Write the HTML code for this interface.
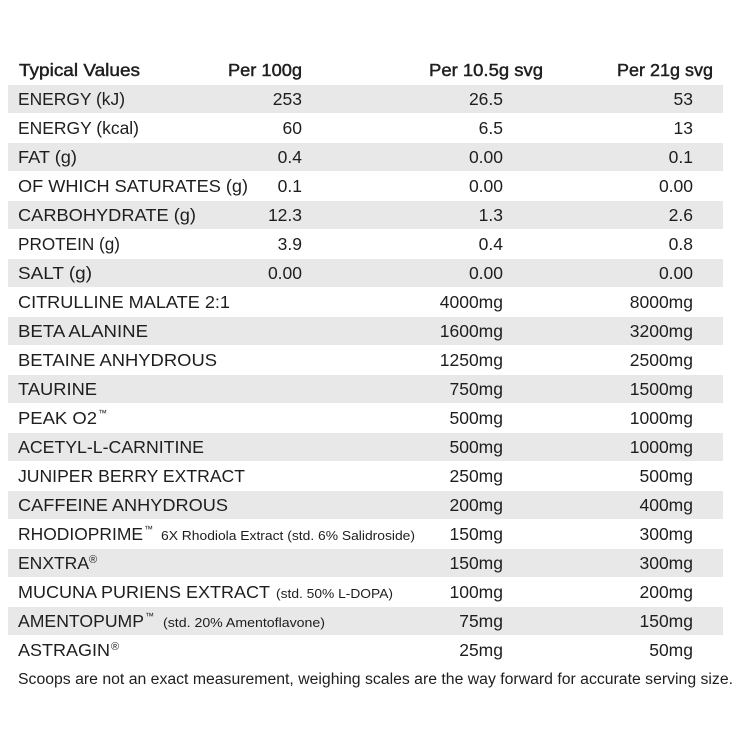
<!DOCTYPE html>
<html><head><meta charset="utf-8"><style>
html,body{margin:0;padding:0;background:#fff;}
svg{display:block;}
text{font-family:"Liberation Sans",Arial,sans-serif;fill:#1e1e1e;}
.b{font-size:17.5px;}
.s{font-size:13px;}
.h{font-size:17.5px;stroke:#1e1e1e;stroke-width:0.45px;}
.f{font-size:15.5px;}
</style></head><body>
<svg width="740" height="740" viewBox="0 0 740 740" xmlns="http://www.w3.org/2000/svg">
<rect width="740" height="740" fill="#fff"/>
<g fill="#e8e8e8">
<rect x="8" y="85" width="715" height="28"/>
<rect x="8" y="143" width="715" height="28"/>
<rect x="8" y="201" width="715" height="28"/>
<rect x="8" y="259" width="715" height="28"/>
<rect x="8" y="317" width="715" height="28"/>
<rect x="8" y="375" width="715" height="28"/>
<rect x="8" y="433" width="715" height="28"/>
<rect x="8" y="491" width="715" height="28"/>
<rect x="8" y="549" width="715" height="28"/>
<rect x="8" y="607" width="715" height="28"/>
</g>
<!-- header -->
<text class="h" x="19" y="76" textLength="121" lengthAdjust="spacingAndGlyphs">Typical Values</text>
<text class="h" x="228" y="76" textLength="74" lengthAdjust="spacingAndGlyphs">Per 100g</text>
<text class="h" x="429" y="76" textLength="114" lengthAdjust="spacingAndGlyphs">Per 10.5g svg</text>
<text class="h" x="617" y="76" textLength="96" lengthAdjust="spacingAndGlyphs">Per 21g svg</text>

<!-- labels -->
<g class="b">
<text class="b" x="18" y="105" textLength="107" lengthAdjust="spacingAndGlyphs">ENERGY (kJ)</text>
<text class="b" x="18" y="134" textLength="121" lengthAdjust="spacingAndGlyphs">ENERGY (kcal)</text>
<text class="b" x="18" y="163" textLength="59" lengthAdjust="spacingAndGlyphs">FAT (g)</text>
<text class="b" x="18" y="192" textLength="230" lengthAdjust="spacingAndGlyphs">OF WHICH SATURATES (g)</text>
<text class="b" x="18" y="221" textLength="178" lengthAdjust="spacingAndGlyphs">CARBOHYDRATE (g)</text>
<text class="b" x="18" y="250" textLength="102" lengthAdjust="spacingAndGlyphs">PROTEIN (g)</text>
<text class="b" x="18" y="279" textLength="74" lengthAdjust="spacingAndGlyphs">SALT (g)</text>
<text class="b" x="18" y="308" textLength="212" lengthAdjust="spacingAndGlyphs">CITRULLINE MALATE  2:1</text>
<text class="b" x="18" y="337" textLength="130" lengthAdjust="spacingAndGlyphs">BETA ALANINE</text>
<text class="b" x="18" y="366" textLength="199" lengthAdjust="spacingAndGlyphs">BETAINE ANHYDROUS</text>
<text class="b" x="18" y="395" textLength="79" lengthAdjust="spacingAndGlyphs">TAURINE</text>
<text class="b" x="18" y="424" textLength="79" lengthAdjust="spacingAndGlyphs">PEAK O2</text>
<text style="font-size:9px" x="98" y="416">™</text>
<text class="b" x="18" y="453" textLength="186" lengthAdjust="spacingAndGlyphs">ACETYL-L-CARNITINE</text>
<text class="b" x="18" y="482" textLength="227" lengthAdjust="spacingAndGlyphs">JUNIPER BERRY EXTRACT</text>
<text class="b" x="18" y="511" textLength="210" lengthAdjust="spacingAndGlyphs">CAFFEINE ANHYDROUS</text>
<text class="b" x="18" y="540" textLength="125" lengthAdjust="spacingAndGlyphs">RHODIOPRIME</text>
<text style="font-size:9px" x="144" y="532">™</text>
<text class="s" x="161" y="540" textLength="254" lengthAdjust="spacingAndGlyphs">6X Rhodiola Extract (std. 6% Salidroside)</text>
<text class="b" x="18" y="569" textLength="71" lengthAdjust="spacingAndGlyphs">ENXTRA</text>
<text style="font-size:11px" x="89" y="563">®</text>
<text class="b" x="18" y="598" textLength="252" lengthAdjust="spacingAndGlyphs">MUCUNA PURIENS EXTRACT</text>
<text class="s" x="276" y="598" textLength="117" lengthAdjust="spacingAndGlyphs">(std. 50% L-DOPA)</text>
<text class="b" x="18" y="627" textLength="126" lengthAdjust="spacingAndGlyphs">AMENTOPUMP</text>
<text style="font-size:9px" x="145" y="619">™</text>
<text class="s" x="163" y="627" textLength="162" lengthAdjust="spacingAndGlyphs">(std. 20% Amentoflavone)</text>
<text class="b" x="18" y="656" textLength="92" lengthAdjust="spacingAndGlyphs">ASTRAGIN</text>
<text style="font-size:11px" x="111" y="650">®</text>
</g>

<!-- column 1 -->
<g class="b" text-anchor="end">
<text class="b" x="302" y="105">253</text>
<text class="b" x="302" y="134">60</text>
<text class="b" x="302" y="163">0.4</text>
<text class="b" x="302" y="192">0.1</text>
<text class="b" x="302" y="221">12.3</text>
<text class="b" x="302" y="250">3.9</text>
<text class="b" x="302" y="279">0.00</text>
</g>
<!-- column 2 -->
<g text-anchor="end">
<text class="b" x="503" y="105">26.5</text>
<text class="b" x="503" y="134">6.5</text>
<text class="b" x="503" y="163">0.00</text>
<text class="b" x="503" y="192">0.00</text>
<text class="b" x="503" y="221">1.3</text>
<text class="b" x="503" y="250">0.4</text>
<text class="b" x="503" y="279">0.00</text>
<text class="b" x="503" y="308">4000mg</text>
<text class="b" x="503" y="337">1600mg</text>
<text class="b" x="503" y="366">1250mg</text>
<text class="b" x="503" y="395">750mg</text>
<text class="b" x="503" y="424">500mg</text>
<text class="b" x="503" y="453">500mg</text>
<text class="b" x="503" y="482">250mg</text>
<text class="b" x="503" y="511">200mg</text>
<text class="b" x="503" y="540">150mg</text>
<text class="b" x="503" y="569">150mg</text>
<text class="b" x="503" y="598">100mg</text>
<text class="b" x="503" y="627">75mg</text>
<text class="b" x="503" y="656">25mg</text>
</g>
<!-- column 3 -->
<g text-anchor="end">
<text class="b" x="693" y="105">53</text>
<text class="b" x="693" y="134">13</text>
<text class="b" x="693" y="163">0.1</text>
<text class="b" x="693" y="192">0.00</text>
<text class="b" x="693" y="221">2.6</text>
<text class="b" x="693" y="250">0.8</text>
<text class="b" x="693" y="279">0.00</text>
<text class="b" x="693" y="308">8000mg</text>
<text class="b" x="693" y="337">3200mg</text>
<text class="b" x="693" y="366">2500mg</text>
<text class="b" x="693" y="395">1500mg</text>
<text class="b" x="693" y="424">1000mg</text>
<text class="b" x="693" y="453">1000mg</text>
<text class="b" x="693" y="482">500mg</text>
<text class="b" x="693" y="511">400mg</text>
<text class="b" x="693" y="540">300mg</text>
<text class="b" x="693" y="569">300mg</text>
<text class="b" x="693" y="598">200mg</text>
<text class="b" x="693" y="627">150mg</text>
<text class="b" x="693" y="656">50mg</text>
</g>

<text class="f" x="18" y="684" textLength="715" lengthAdjust="spacingAndGlyphs">Scoops are not an exact measurement, weighing scales are the way forward for accurate serving size.</text>
</svg>
</body></html>
